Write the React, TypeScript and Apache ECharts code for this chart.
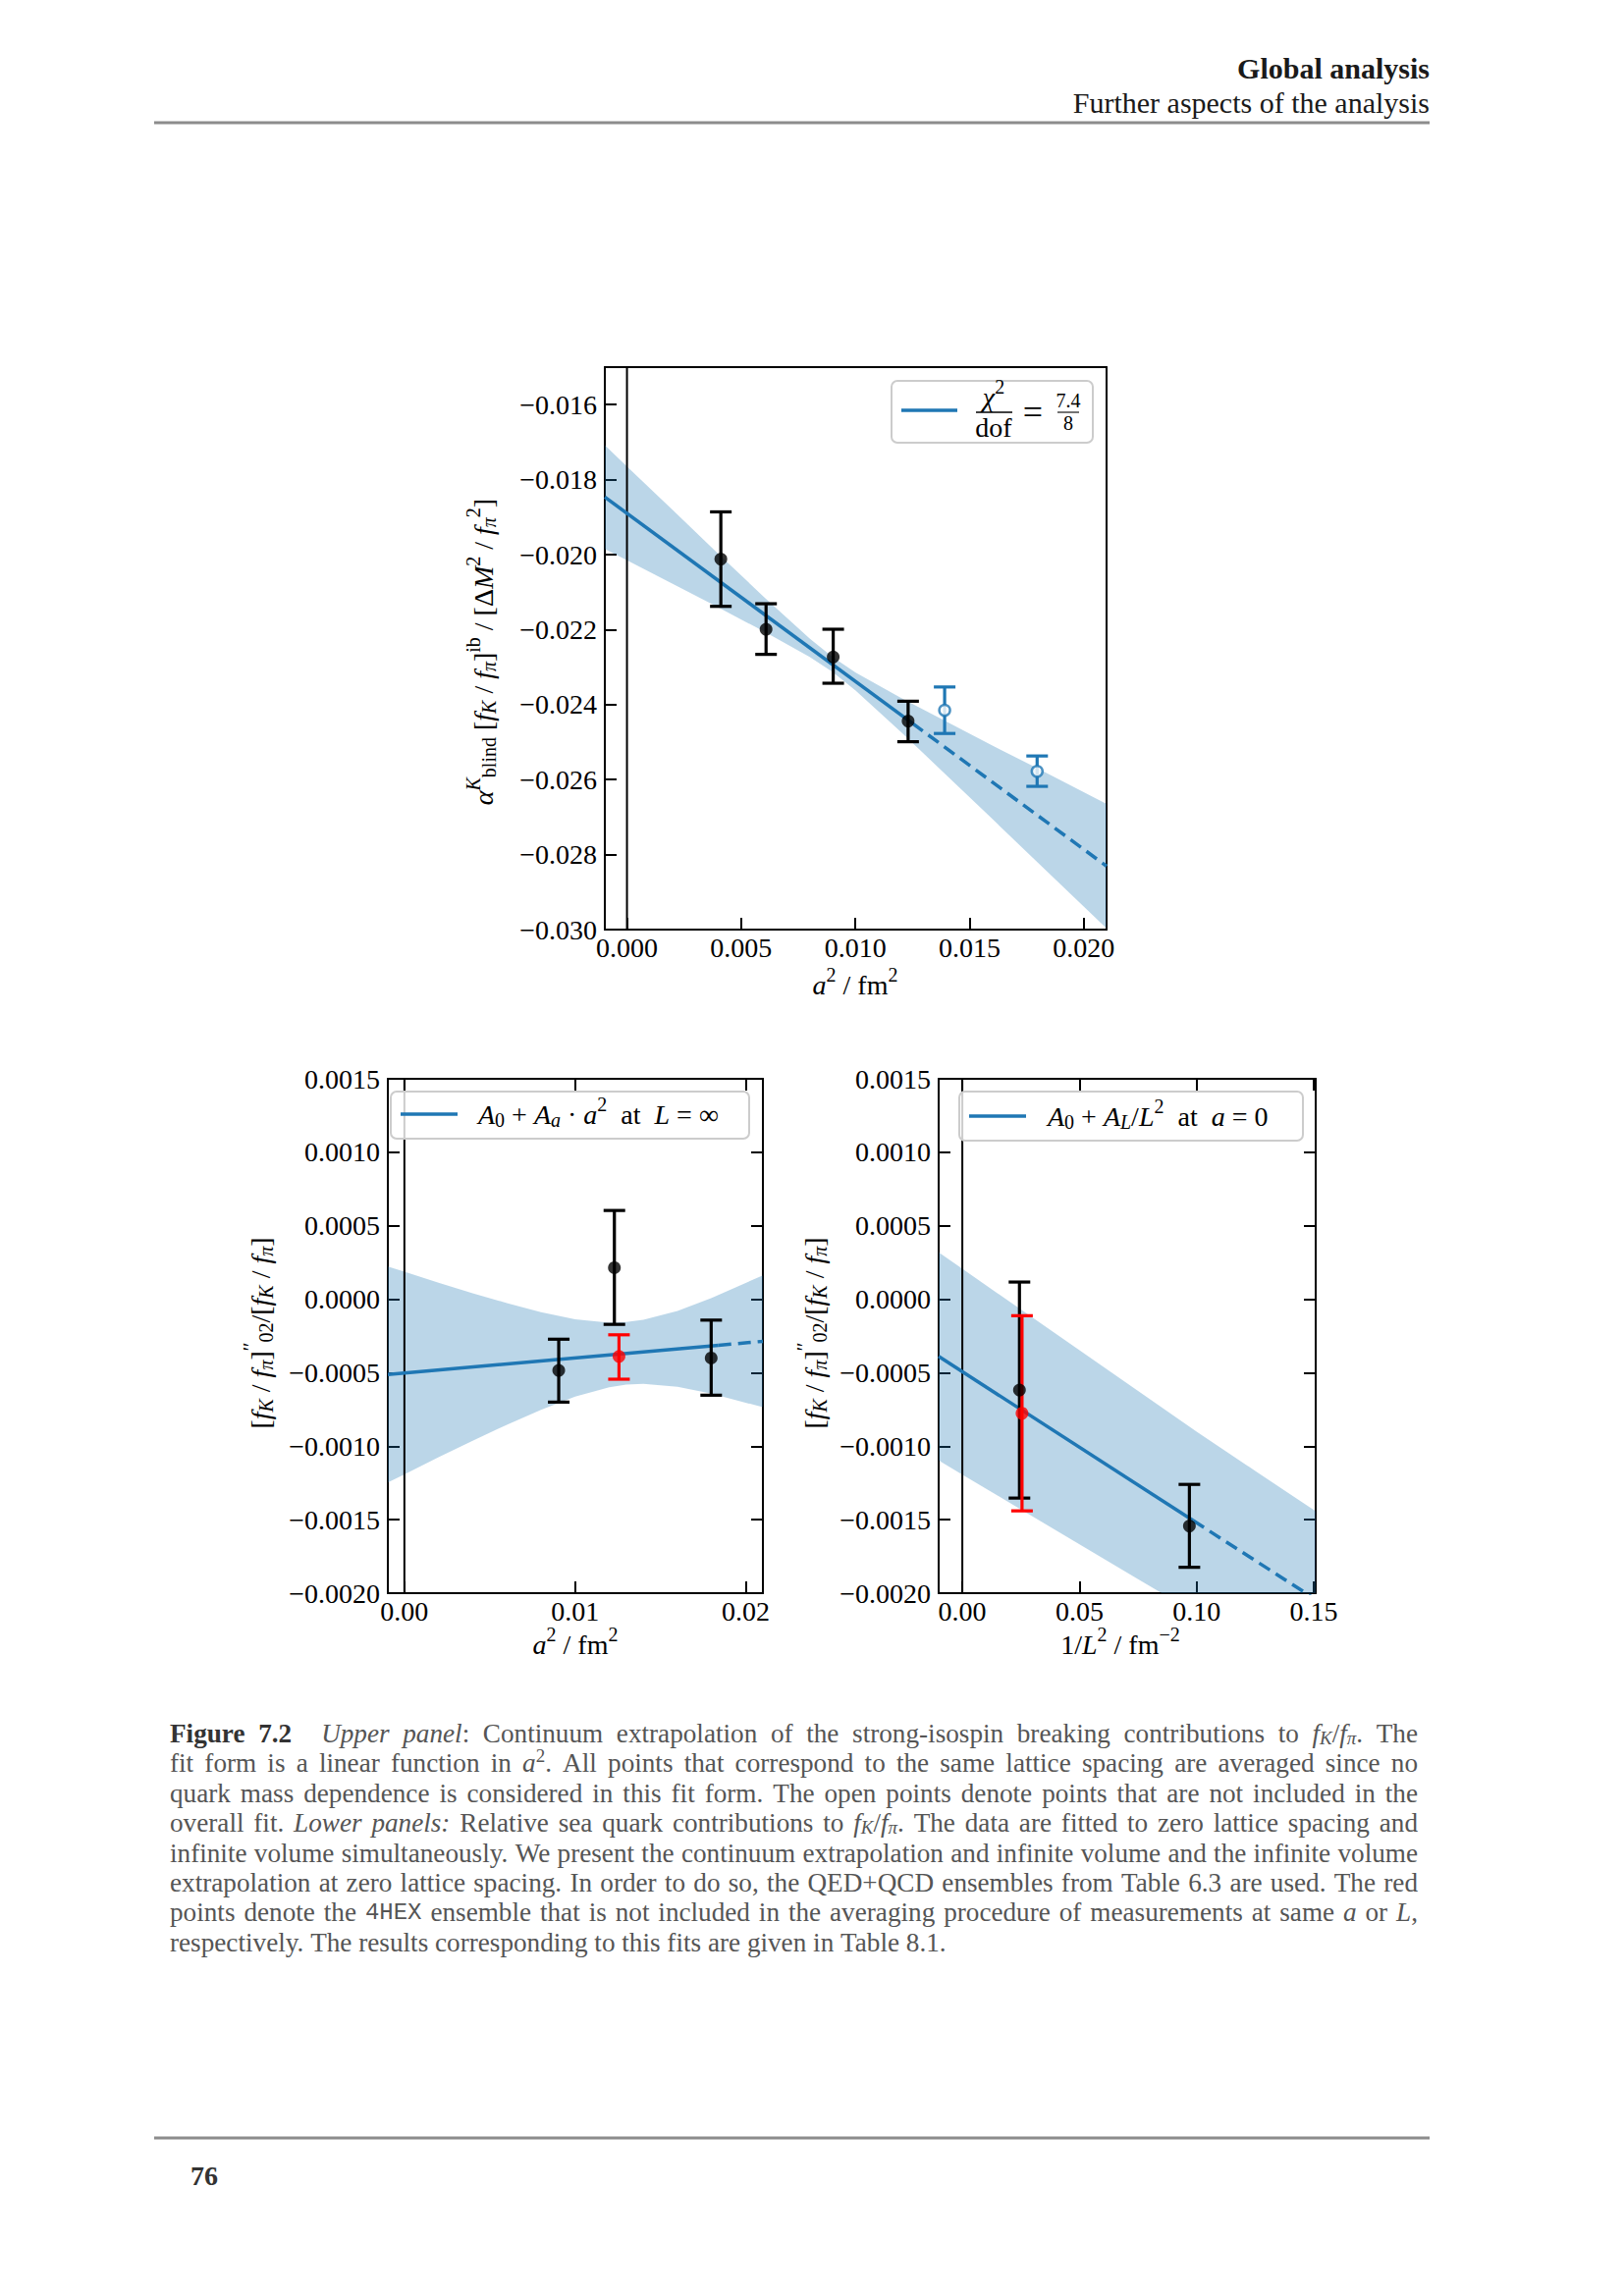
import React, { useEffect, useRef } from "react";
import * as echarts from "echarts";

const SERIF = "'Liberation Serif', 'Times New Roman', serif";
const MONO = "'Liberation Mono', 'DejaVu Sans Mono', monospace";
const BLUE = "#1f77b4";
const BAND = "rgba(31,119,180,0.3)";
const RED = "#ff0000";

// ---------------- Upper panel ----------------
const upXRange = [-0.00097, 0.021];
const upYRange = [-0.03, -0.015];
const upXTicks = [0, 0.005, 0.01, 0.015, 0.02];
const upYTicks = [-0.03, -0.028, -0.026, -0.024, -0.022, -0.02, -0.018, -0.016];
const upPtX = [0.00411, 0.00609, 0.00903, 0.01231];
const upPtY = [-0.02012, -0.02199, -0.02273, -0.02444];
const upPtLo = [-0.02138, -0.02266, -0.02343, -0.02499];
const upPtHi = [-0.01886, -0.02131, -0.02199, -0.02391];
const upOpenX = [0.01391, 0.01796];
const upOpenY = [-0.02415, -0.02578];
const upOpenLo = [-0.02477, -0.02618];
const upOpenHi = [-0.02353, -0.02537];
const upFitSolidX = [-0.00097, 0.0125];
const upFitSolidY = [-0.018465, -0.0245];
const upFitDashX = [0.0125, 0.021];
const upFitDashY = [-0.0245, -0.028308];
const upBandX = [-0.00097, 0, 0.002, 0.004, 0.006, 0.008, 0.009, 0.01, 0.012, 0.014, 0.016, 0.018, 0.021];
const upBandHi = [-0.01708, -0.01765, -0.01881, -0.01998, -0.02113, -0.02224, -0.02273, -0.02314, -0.02382, -0.02446, -0.02509, -0.02571, -0.02665];
const upBandLo = [-0.01985, -0.02015, -0.02078, -0.02141, -0.02205, -0.02273, -0.02313, -0.02362, -0.02473, -0.02589, -0.02705, -0.02822, -0.02997];

// ---------------- Lower panels (shared y) ----------------
const lowYRange = [-0.002, 0.0015];
const lowYTicks = [-0.002, -0.0015, -0.001, -0.0005, 0, 0.0005, 0.001, 0.0015];

// Lower left: a^2 dependence
const llXRange = [-0.00097, 0.021];
const llXTicks = [0, 0.01, 0.02];
const llPtX = [0.00904, 0.0123, 0.01797];
const llPtY = [-0.000484, 0.000215, -0.0004];
const llPtLo = [-0.0007, -0.000171, -0.000653];
const llPtHi = [-0.000272, 0.000604, -0.000142];
const llRedX = [0.01257];
const llRedY = [-0.000389];
const llRedLo = [-0.000544];
const llRedHi = [-0.000242];
const llFitSolidX = [-0.00097, 0.0184];
const llFitSolidY = [-0.000512, -0.000313];
const llFitDashX = [0.0184, 0.021];
const llFitDashY = [-0.000313, -0.000286];
const llBandX = [-0.00097, 0, 0.002, 0.004, 0.006, 0.008, 0.01, 0.012, 0.013, 0.014, 0.016, 0.018, 0.021];
const llBandHi = [0.000223, 0.000187, 0.000113, 0.000041, -0.000026, -0.000088, -0.000136, -0.000159, -0.000155, -0.00014, -0.00008, 0.000008, 0.000163];
const llBandLo = [-0.001247, -0.001191, -0.001075, -0.000963, -0.000854, -0.000752, -0.000662, -0.000599, -0.000581, -0.000576, -0.000596, -0.000642, -0.000735];

// Lower right: 1/L^2 dependence
const lrXRange = [-0.0101, 0.1508];
const lrXTicks = [0, 0.05, 0.1, 0.15];
const lrPtX = [0.02438, 0.0969];
const lrPtY = [-0.000618, -0.001543];
const lrPtLo = [-0.001353, -0.001824];
const lrPtHi = [0.000117, -0.00126];
const lrRedX = [0.02547];
const lrRedY = [-0.000776];
const lrRedLo = [-0.00144];
const lrRedHi = [-0.000112];
const lrFitSolidX = [-0.0101, 0.0985];
const lrFitSolidY = [-0.000389, -0.001506];
const lrFitDashX = [0.0985, 0.1508];
const lrFitDashY = [-0.001506, -0.002043];
const lrBandX = [-0.0101, 0, 0.025, 0.05, 0.075, 0.1, 0.125, 0.1508];
const lrBandHi = [0.000319, 0.000207, -0.00007, -0.000347, -0.000624, -0.000901, -0.001168, -0.001443];
const lrBandLo = [-0.001097, -0.001193, -0.00143, -0.001667, -0.001904, -0.002141, -0.002388, -0.002643];

// ---------------- Texts ----------------
const headerTitle = "Global analysis";
const headerSub = "Further aspects of the analysis";
const pageNumber = "76";
const captionLines: [string, string][][] = [
  [["b", "Figure 7.2"], ["q", ""], ["i", "Upper panel"], ["n", ": Continuum extrapolation of the strong-isospin breaking contributions to "], ["i", "f"], ["sb", "K"], ["n", "/"], ["i", "f"], ["sb", "π"], ["n", ". The"]],
  [["n", "fit form is a linear function in "], ["i", "a"], ["sp", "2"], ["n", ". All points that correspond to the same lattice spacing are averaged since no"]],
  [["n", "quark mass dependence is considered in this fit form. The open points denote points that are not included in the"]],
  [["n", "overall fit. "], ["i", "Lower panels:"], ["n", " Relative sea quark contributions to "], ["i", "f"], ["sb", "K"], ["n", "/"], ["i", "f"], ["sb", "π"], ["n", ". The data are fitted to zero lattice spacing and"]],
  [["n", "infinite volume simultaneously. We present the continuum extrapolation and infinite volume and the infinite volume"]],
  [["n", "extrapolation at zero lattice spacing. In order to do so, the QED+QCD ensembles from Table 6.3 are used. The red"]],
  [["n", "points denote the "], ["t", "4HEX"], ["n", " ensemble that is not included in the averaging procedure of measurements at same "], ["i", "a"], ["n", " or "], ["i", "L"], ["n", ","]],
  [["n", "respectively. The results corresponding to this fits are given in Table 8.1."]],
];

const fmt = (v: number, dec: number) => (v < -1e-12 ? "\u2212" : "") + Math.abs(v).toFixed(dec);
const TICKFS = 28;

function mkX(grid: number, range: number[], ticks: number[], dec: number, position: string, labels: boolean, ticksOn: boolean) {
  return {
    type: "value", gridIndex: grid, position, min: range[0], max: range[1],
    axisLine: { show: true, onZero: false, lineStyle: { color: "#000", width: 2 } },
    axisTick: { show: ticksOn, inside: true, length: 12, customValues: ticks, lineStyle: { color: "#000", width: 2 } },
    axisLabel: { show: labels, customValues: ticks, margin: 4, formatter: (v: number) => fmt(v, dec), fontFamily: SERIF, fontSize: TICKFS, color: "#000" },
    splitLine: { show: false },
  };
}
function mkY(grid: number, range: number[], ticks: number[], dec: number, position: string, labels: boolean, ticksOn: boolean) {
  return {
    type: "value", gridIndex: grid, position, min: range[0], max: range[1],
    axisLine: { show: true, onZero: false, lineStyle: { color: "#000", width: 2 } },
    axisTick: { show: ticksOn, inside: true, length: 12, customValues: ticks, lineStyle: { color: "#000", width: 2 } },
    axisLabel: { show: labels, customValues: ticks, margin: 8, formatter: (v: number) => fmt(v, dec), fontFamily: SERIF, fontSize: TICKFS, color: "#000" },
    splitLine: { show: false },
  };
}

function clipPoly(pts: number[][], x0: number, y0: number, x1: number, y1: number) {
  const ins = [
    (p: number[]) => p[0] >= x0,
    (p: number[]) => p[0] <= x1,
    (p: number[]) => p[1] >= y0,
    (p: number[]) => p[1] <= y1,
  ];
  const cut = [
    (a: number[], b: number[]) => { const t = (x0 - a[0]) / (b[0] - a[0]); return [x0, a[1] + t * (b[1] - a[1])]; },
    (a: number[], b: number[]) => { const t = (x1 - a[0]) / (b[0] - a[0]); return [x1, a[1] + t * (b[1] - a[1])]; },
    (a: number[], b: number[]) => { const t = (y0 - a[1]) / (b[1] - a[1]); return [a[0] + t * (b[0] - a[0]), y0]; },
    (a: number[], b: number[]) => { const t = (y1 - a[1]) / (b[1] - a[1]); return [a[0] + t * (b[0] - a[0]), y1]; },
  ];
  let out = pts;
  for (let k = 0; k < 4; k++) {
    const inp = out;
    out = [];
    for (let i = 0; i < inp.length; i++) {
      const cur = inp[i];
      const prev = inp[(i + inp.length - 1) % inp.length];
      if (ins[k](cur)) {
        if (!ins[k](prev)) out.push(cut[k](prev, cur));
        out.push(cur);
      } else if (ins[k](prev)) {
        out.push(cut[k](prev, cur));
      }
    }
  }
  return out;
}

function bandSeries(ai: number, xs: number[], lo: number[], hi: number[]) {
  return {
    type: "custom", xAxisIndex: ai, yAxisIndex: ai, silent: true, z: 1,
    data: [[xs[0], lo[0]]],
    renderItem: (params: any, api: any) => {
      const pts: number[][] = [];
      for (let i = 0; i < xs.length; i++) pts.push(api.coord([xs[i], hi[i]]));
      for (let i = xs.length - 1; i >= 0; i--) pts.push(api.coord([xs[i], lo[i]]));
      const cs = params.coordSys;
      const clipped = clipPoly(pts, cs.x, cs.y, cs.x + cs.width, cs.y + cs.height);
      return { type: "polygon", shape: { points: clipped }, style: { fill: BAND } };
    },
  };
}
function lineSeries(ai: number, xs: number[], ys: number[], dashed: boolean) {
  return {
    type: "line", xAxisIndex: ai, yAxisIndex: ai, silent: true, z: 3,
    data: xs.map((x, i) => [x, ys[i]]), showSymbol: false, symbol: "none",
    lineStyle: { color: BLUE, width: 3.5, type: dashed ? [13, 7] : "solid" },
  };
}
function zeroLine(ai: number, yr: number[]) {
  return {
    type: "line", xAxisIndex: ai, yAxisIndex: ai, silent: true, z: 2,
    data: [[0, yr[0]], [0, yr[1]]], showSymbol: false, symbol: "none",
    lineStyle: { color: "#000", width: 2 },
  };
}
function errSeries(ai: number, xs: number[], lo: number[], hi: number[], color: string) {
  return {
    type: "custom", xAxisIndex: ai, yAxisIndex: ai, silent: true, z: 4,
    data: xs.map((x, i) => [x, lo[i], hi[i]]),
    encode: { x: 0, y: [1, 2] },
    renderItem: (params: any, api: any) => {
      const x = api.value(0);
      const p1 = api.coord([x, api.value(1)]);
      const p2 = api.coord([x, api.value(2)]);
      const st = { stroke: color, lineWidth: 3.2 };
      const cap = 11;
      return {
        type: "group",
        children: [
          { type: "line", shape: { x1: p1[0], y1: p1[1], x2: p2[0], y2: p2[1] }, style: st },
          { type: "line", shape: { x1: p1[0] - cap, y1: p1[1], x2: p1[0] + cap, y2: p1[1] }, style: st },
          { type: "line", shape: { x1: p2[0] - cap, y1: p2[1], x2: p2[0] + cap, y2: p2[1] }, style: st },
        ],
      };
    },
  };
}
function ptSeries(ai: number, xs: number[], ys: number[], color: string, open: boolean) {
  return {
    type: "scatter", xAxisIndex: ai, yAxisIndex: ai, silent: true, z: 5,
    data: xs.map((x, i) => [x, ys[i]]), symbol: "circle", symbolSize: open ? 11 : 13,
    itemStyle: open ? { color: "#fff", borderColor: color, borderWidth: 2.5 } : { color, borderWidth: 0 },
  };
}

const R = (fs: number, color = "#000") => {
  const small = Math.round(fs * 0.7);
  const base = { fontFamily: SERIF, fontSize: fs, fill: color, color, lineHeight: Math.round(fs * 1.5) };
  const sp = { fontFamily: SERIF, fontSize: small, fill: color, color, verticalAlign: "top", height: Math.round(fs * 0.8) };
  const sb = { fontFamily: SERIF, fontSize: small, fill: color, color, verticalAlign: "bottom", height: Math.round(fs * 1.1) };
  return {
    n: { ...base }, i: { ...base, fontStyle: "italic" },
    sp: { ...sp }, spi: { ...sp, fontStyle: "italic" },
    sb: { ...sb }, sbi: { ...sb, fontStyle: "italic" },
  };
};

function txt(x: number, y: number, text: string, o: any = {}) {
  const align = o.align || "center";
  return {
    type: "text", x, y, rotation: o.rot || 0, z: 60,
    style: {
      text, rich: o.rich, align, verticalAlign: "middle", textAlign: align, textVerticalAlign: "middle",
      fontFamily: o.font || SERIF, fontSize: o.fs || 28, fontWeight: o.bold ? "bold" : "normal",
      fontStyle: o.italic ? "italic" : "normal", fill: o.color || "#000",
    },
  };
}
function hline(x1: number, y1: number, x2: number, y2: number, color: string, w: number, z = 60) {
  return { type: "line", z, shape: { x1, y1, x2, y2 }, style: { stroke: color, lineWidth: w } };
}
function legendBox(x: number, y: number, w: number, h: number) {
  return { type: "rect", z: 55, shape: { x, y, width: w, height: h, r: 6 }, style: { fill: "rgba(255,255,255,0.8)", stroke: "#cccccc", lineWidth: 2 } };
}

export default function App() {
  const ref = useRef<HTMLDivElement>(null);
  useEffect(() => {
    document.body.style.margin = "0";
    const el = ref.current!;
    const chart = echarts.init(el, null, { renderer: "svg", width: 1654, height: 2339 });

    // ---------- caption layout (justified lines) ----------
    const canvas = document.createElement("canvas");
    const ctx = canvas.getContext("2d")!;
    const capC = "#555555";
    const mkCapStyles = (fs: number): any => ({
      b: { fontFamily: SERIF, fontSize: fs, fontWeight: "bold", fill: "#333333", color: "#333333", lineHeight: Math.round(fs * 1.4) },
      n: { fontFamily: SERIF, fontSize: fs, fill: capC, color: capC, lineHeight: Math.round(fs * 1.4) },
      i: { fontFamily: SERIF, fontSize: fs, fontStyle: "italic", fill: capC, color: capC, lineHeight: Math.round(fs * 1.4) },
      sb: { fontFamily: SERIF, fontSize: Math.round(fs * 0.7), fontStyle: "italic", fill: capC, color: capC, verticalAlign: "bottom", height: Math.round(fs * 1.08) },
      sp: { fontFamily: SERIF, fontSize: Math.round(fs * 0.7), fill: capC, color: capC, verticalAlign: "top", height: Math.round(fs * 0.8) },
      t: { fontFamily: MONO, fontSize: Math.round(fs * 0.88), fill: capC, color: capC, lineHeight: Math.round(fs * 1.4) },
    });
    const measure = (s: string, st: any) => {
      ctx.font = [st.fontStyle || "", st.fontWeight || "", st.fontSize + "px", st.fontFamily].join(" ").trim();
      return ctx.measureText(s).width;
    };
    const QUAD = 30;
    const capLeft = 173;
    const capWidth = 1271;
    const lineInfo = (segs: [string, string][], styles: any) => {
      let textW = 0;
      let nGaps = 0;
      let fixedW = 0;
      segs.forEach(([st, t]) => {
        if (st === "q") { fixedW += QUAD; return; }
        t.split(" ").forEach((p, j) => {
          if (j > 0) nGaps++;
          if (p) textW += measure(p, styles[st]);
        });
      });
      return { textW, nGaps, fixedW };
    };
    // choose the font size so the tightest justified line has natural word spacing
    const st0 = mkCapStyles(24);
    const sp0 = measure(" ", st0.n);
    let ratio = 10;
    captionLines.forEach((segs, li) => {
      if (li === captionLines.length - 1) return;
      const inf = lineInfo(segs, st0);
      const nat = inf.textW + inf.nGaps * sp0;
      ratio = Math.min(ratio, (capWidth - inf.fixedW) / nat);
    });
    const capFs = Math.min(28, 24 * ratio * 0.995);
    const capStyles = mkCapStyles(capFs);
    const capRich: any = { ...capStyles, q: { fontFamily: SERIF, fontSize: capFs, width: QUAD } };
    const captionGraphics: any[] = [];
    const capY0 = 1766;
    const capDY = 30.4;
    captionLines.forEach((segs, li) => {
      const parts: string[] = [];
      segs.forEach(([st, t]) => {
        if (st === "q") { parts.push("{q| }"); return; }
        t.split(" ").forEach((p, j) => {
          if (j > 0) parts.push(`{g${li}| }`);
          if (p) parts.push(`{${st}|${p}}`);
        });
      });
      const inf = lineInfo(segs, capStyles);
      const justify = li < captionLines.length - 1;
      const gap = justify && inf.nGaps > 0 ? (capWidth - inf.textW - inf.fixedW) / inf.nGaps : measure(" ", capStyles.n);
      capRich["g" + li] = { fontFamily: SERIF, fontSize: capFs, width: gap };
      captionGraphics.push({
        type: "text", x: capLeft, y: capY0 + li * capDY, z: 60,
        style: { text: parts.join(""), rich: capRich, align: "left", verticalAlign: "middle", textAlign: "left", textVerticalAlign: "middle", fontFamily: SERIF, fontSize: capFs, fill: capC },
      });
    });

    const r28 = R(28);
    const r20 = R(20);
    const yLabUp = "{i|α}{spi|K}{sb|blind}{n| [}{i|f}{sbi|K}{n| / }{i|f}{sbi|π}{n|]}{sp|ib}{n| / [Δ}{i|M}{sp|2}{n| / }{i|f}{sbi|π}{sp|2}{n|]}";
    const yLabLow = "{n|[}{i|f}{sbi|K}{n| / }{i|f}{sbi|π}{n|]}{sp|′′}{sb|02}{n|/[}{i|f}{sbi|K}{n| / }{i|f}{sbi|π}{n|]}";
    const xLabA = "{i|a}{sp|2}{n| / fm}{sp|2}";
    const xLabL = "{n|1/}{i|L}{sp|2}{n| / fm}{sp|−2}";
    const legLL = "{i|A}{sb|0}{n| + }{i|A}{sbi|a}{n| · }{i|a}{sp|2}{n|  at  }{i|L}{n| = ∞}";
    const legLR = "{i|A}{sb|0}{n| + }{i|A}{sbi|L}{n|/}{i|L}{sp|2}{n|  at  }{i|a}{n| = 0}";

    const option: any = {
      animation: false,
      backgroundColor: "#ffffff",
      grid: [
        { left: 616, top: 374, width: 511, height: 573, show: false },
        { left: 395, top: 1099, width: 382, height: 524, show: false },
        { left: 956, top: 1099, width: 384, height: 524, show: false },
      ],
      xAxis: [
        mkX(0, upXRange, upXTicks, 3, "bottom", true, true),
        mkX(0, upXRange, upXTicks, 3, "top", false, false),
        mkX(1, llXRange, llXTicks, 2, "bottom", true, true),
        mkX(1, llXRange, llXTicks, 2, "top", false, true),
        mkX(2, lrXRange, lrXTicks, 2, "bottom", true, true),
        mkX(2, lrXRange, lrXTicks, 2, "top", false, true),
      ],
      yAxis: [
        mkY(0, upYRange, upYTicks, 3, "left", true, true),
        mkY(0, upYRange, upYTicks, 3, "right", false, false),
        mkY(1, lowYRange, lowYTicks, 4, "left", true, true),
        mkY(1, lowYRange, lowYTicks, 4, "right", false, true),
        mkY(2, lowYRange, lowYTicks, 4, "left", true, true),
        mkY(2, lowYRange, lowYTicks, 4, "right", false, true),
      ],
      series: [
        // upper
        bandSeries(0, upBandX, upBandLo, upBandHi),
        zeroLine(0, upYRange),
        lineSeries(0, upFitSolidX, upFitSolidY, false),
        lineSeries(0, upFitDashX, upFitDashY, true),
        errSeries(0, upPtX, upPtLo, upPtHi, "#000"),
        errSeries(0, upOpenX, upOpenLo, upOpenHi, BLUE),
        ptSeries(0, upPtX, upPtY, "#000", false),
        ptSeries(0, upOpenX, upOpenY, BLUE, true),
        // lower left
        bandSeries(2, llBandX, llBandLo, llBandHi),
        zeroLine(2, lowYRange),
        lineSeries(2, llFitSolidX, llFitSolidY, false),
        lineSeries(2, llFitDashX, llFitDashY, true),
        errSeries(2, llPtX, llPtLo, llPtHi, "#000"),
        errSeries(2, llRedX, llRedLo, llRedHi, RED),
        ptSeries(2, llPtX, llPtY, "#000", false),
        ptSeries(2, llRedX, llRedY, RED, false),
        // lower right
        bandSeries(4, lrBandX, lrBandLo, lrBandHi),
        zeroLine(4, lowYRange),
        lineSeries(4, lrFitSolidX, lrFitSolidY, false),
        lineSeries(4, lrFitDashX, lrFitDashY, true),
        errSeries(4, lrPtX, lrPtLo, lrPtHi, "#000"),
        errSeries(4, lrRedX, lrRedLo, lrRedHi, RED),
        ptSeries(4, lrPtX, lrPtY, "#000", false),
        ptSeries(4, lrRedX, lrRedY, RED, false),
      ],
      graphic: [
        // header
        txt(1456, 69, headerTitle, { align: "right", fs: 30, bold: true, color: "#1a1a1a" }),
        txt(1456, 104, headerSub, { align: "right", fs: 30, color: "#1a1a1a" }),
        hline(157, 125, 1456, 125, "#8c8c8c", 3),
        // footer
        hline(157, 2178, 1456, 2178, "#8c8c8c", 3),
        txt(194, 2216, pageNumber, { align: "left", fs: 28, bold: true, color: "#333333" }),
        // axis titles
        txt(492, 664, yLabUp, { rich: r28, rot: Math.PI / 2 }),
        txt(871, 1003, xLabA, { rich: r28 }),
        txt(265, 1358, yLabLow, { rich: r28, rot: Math.PI / 2 }),
        txt(586, 1675, xLabA, { rich: r28 }),
        txt(829, 1358, yLabLow, { rich: r28, rot: Math.PI / 2 }),
        txt(1141, 1675, xLabL, { rich: r28 }),
        // upper legend
        legendBox(908, 388, 205, 63),
        hline(918, 418, 975, 418, BLUE, 3.5),
        txt(1012, 404, "{i|χ}{sp|2}", { rich: r28 }),
        hline(994, 420, 1031, 420, "#000", 1.3),
        txt(1012, 435, "dof", { fs: 28 }),
        txt(1052, 420, "=", { fs: 36 }),
        txt(1088, 408, "7.4", { fs: 20, rich: r20 }),
        hline(1077, 420, 1099, 420, "#000", 1.1),
        txt(1088, 431, "8", { fs: 20, rich: r20 }),
        // lower-left legend
        legendBox(398, 1112, 365, 48),
        hline(408, 1135, 466, 1135, BLUE, 3.5),
        txt(487, 1135, legLL, { rich: r28, align: "left" }),
        // lower-right legend
        legendBox(977, 1112, 350, 50),
        hline(987, 1137, 1045, 1137, BLUE, 3.5),
        txt(1067, 1137, legLR, { rich: r28, align: "left" }),
        ...captionGraphics,
      ],
    };
    chart.setOption(option);
    return () => chart.dispose();
  }, []);
  return <div ref={ref} style={{ position: "absolute", left: 0, top: 0, width: 1654, height: 2339, background: "#fff" }} />;
}
